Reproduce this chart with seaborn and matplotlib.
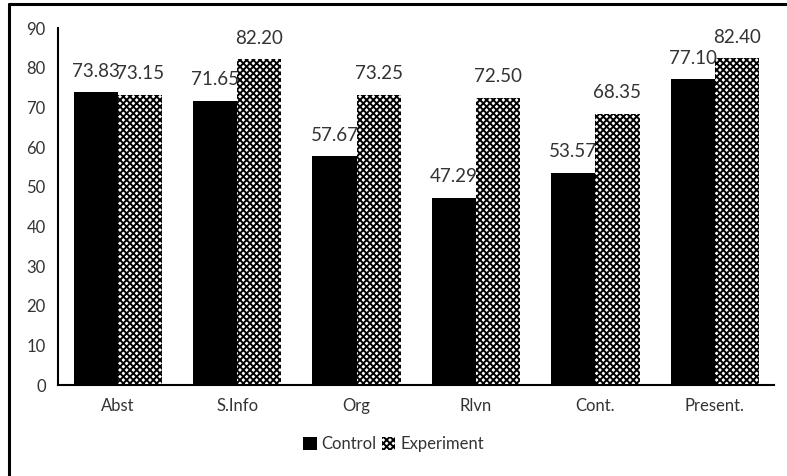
import pandas as pd
import numpy as np
import matplotlib.pyplot as plt
import seaborn as sns
from matplotlib.lines import Line2D
from matplotlib.patches import Patch

categories = ['Abst', 'S.Info', 'Org', 'Rlvn', 'Cont.', 'Present.']
control = [73.83, 71.65, 57.67, 47.29, 53.57, 77.10]
experiment = [73.15, 82.20, 73.25, 72.50, 68.35, 82.40]
groups = ['Control', 'Experiment']

df = pd.DataFrame({
    'category': categories * 2,
    'score': control + experiment,
    'group': [groups[0]] * len(categories) + [groups[1]] * len(categories),
})

sns.set_style('white')
plt.rcParams['font.family'] = ['Lato', 'DejaVu Sans']
plt.rcParams['hatch.linewidth'] = 1.4

fig = plt.figure(figsize=(7.87, 4.76), dpi=100)
ax = fig.add_axes([0.074, 0.191, 0.910, 0.750])

sns.barplot(data=df, x='category', y='score', hue='group', order=categories,
            hue_order=groups, width=0.74, gap=0, ax=ax, legend=False,
            palette=['black', 'white'], saturation=1, edgecolor='none', linewidth=0)

# experiment bars get the checkered look
for bar in ax.containers[1]:
    bar.set_hatch('xxxxx')
    bar.set_edgecolor('black')
    bar.set_linewidth(0)

for cont in ax.containers:
    ax.bar_label(cont, fmt='%.2f', padding=9, fontsize=13.5, color='#333333')

ax.set_ylim(0, 90)
ax.set_yticks(range(0, 91, 10))
ax.set_xlim(-0.5, len(categories) - 0.5)
ax.set_xlabel('')
ax.set_ylabel('')
ax.tick_params(axis='both', length=0, labelsize=12, colors='#333333', pad=9)
for s in ['top', 'right']:
    ax.spines[s].set_visible(False)
for s in ['left', 'bottom']:
    ax.spines[s].set_color('black')
    ax.spines[s].set_linewidth(1.5)

handles = [Patch(facecolor='black', edgecolor='none'),
           Patch(facecolor='white', edgecolor='black', hatch='xxxxx', linewidth=0)]
fig.legend(handles, groups, loc='center', bbox_to_anchor=(0.5, 0.067), ncol=2,
           frameon=False, fontsize=12, handlelength=0.8, handleheight=0.8,
           handletextpad=0.3, columnspacing=0.3, labelcolor='#333333')

# chart frame (only top and left edges visible in the crop)
fig.add_artist(Line2D([0.0115, 1.0], [0.992, 0.992], color='black', lw=2.2, transform=fig.transFigure))
fig.add_artist(Line2D([0.0115, 0.0115], [0.0, 0.992], color='black', lw=2.2, transform=fig.transFigure))

fig.savefig('out.png', dpi=100)
